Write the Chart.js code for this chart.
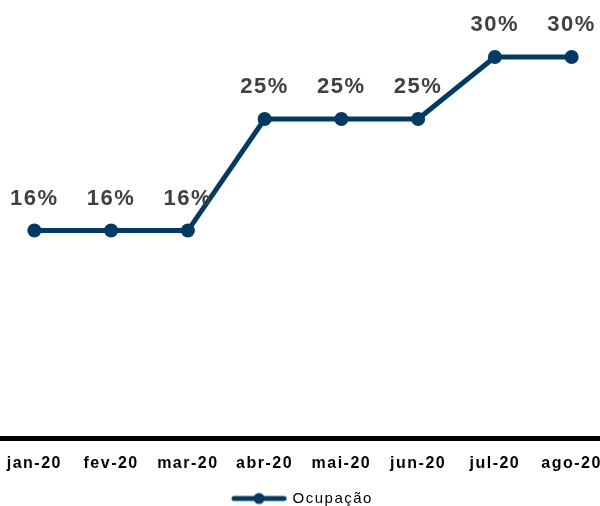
<!DOCTYPE html>
<html>
<head>
<meta charset="utf-8">
<script src="https://cdn.jsdelivr.net/npm/chart.js@4/dist/chart.umd.min.js"></script>
<style>
    body { margin: 0; background: #fff; overflow: hidden; }
    #wrap { position: absolute; left: -4px; top: 0; width: 614px; height: 506px; }
</style>
</head>
<body>
<div id="wrap"><canvas id="chart"></canvas></div>
<script>
// --- Data ---
const months = ['jan-20', 'fev-20', 'mar-20', 'abr-20', 'mai-20', 'jun-20', 'jul-20', 'ago-20'];
const ocupacao = [0.16, 0.16, 0.16, 0.25, 0.25, 0.25, 0.30, 0.30];
const seriesName = 'Ocupação';

const navy = '#033a63';
const font = 'Arial, "Liberation Sans", sans-serif';

// legend icon: short thick line with a dot in the middle
function legendIcon() {
    const c = document.createElement('canvas');
    c.width = 56; c.height = 14;
    const g = c.getContext('2d');
    g.strokeStyle = navy;
    g.lineWidth = 5;
    g.lineCap = 'round';
    g.beginPath();
    g.moveTo(3, 7); g.lineTo(53, 7);
    g.stroke();
    g.fillStyle = navy;
    g.beginPath();
    g.arc(28, 7, 5.5, 0, Math.PI * 2);
    g.fill();
    return c;
}

// a bit of letter spacing on every text the chart measures and draws
const spacing = {
    id: 'spacing',
    beforeLayout(chart) { chart.ctx.letterSpacing = '1.5px'; },
    beforeDraw(chart) { chart.ctx.letterSpacing = '1.5px'; },
    afterDraw(chart) { chart.ctx.letterSpacing = '0px'; }
};

// percentage labels above each point
const pointLabels = {
    id: 'pointLabels',
    afterDatasetsDraw(chart) {
        const ctx = chart.ctx;
        const meta = chart.getDatasetMeta(0);
        ctx.save();
        ctx.letterSpacing = '1.5px';
        ctx.font = 'bold 22px ' + font;
        ctx.fillStyle = '#404040';
        ctx.textAlign = 'center';
        ctx.textBaseline = 'middle';
        meta.data.forEach((pt, i) => {
            ctx.fillText(Math.round(ocupacao[i] * 100) + '%', pt.x, pt.y - 32);
        });
        ctx.restore();
    }
};

new Chart(document.getElementById('chart'), {
    type: 'line',
    data: {
        labels: months,
        datasets: [{
            label: seriesName,
            data: ocupacao,
            borderColor: navy,
            backgroundColor: navy,
            borderWidth: 5,
            tension: 0,
            pointRadius: 7,
            pointBackgroundColor: navy,
            pointBorderWidth: 0
        }]
    },
    options: {
        responsive: true,
        maintainAspectRatio: false,
        animation: false,
        layout: { autoPadding: false, padding: { top: 0, left: 0, right: 0, bottom: -10 } },
        scales: {
            x: {
                offset: true,
                grid: { display: false },
                border: { display: true, color: '#000', width: 5 },
                ticks: {
                    color: '#000',
                    font: { family: font, size: 16, weight: 'bold' },
                    padding: 7,
                    maxRotation: 0,
                    autoSkip: false
                }
            },
            y: {
                display: false,
                min: -0.008,
                max: 0.346
            }
        },
        plugins: {
            tooltip: { enabled: false },
            legend: {
                position: 'bottom',
                padding: 0,
                labels: {
                    usePointStyle: true,
                    pointStyleWidth: 52,
                    padding: 11,
                    font: { family: font, size: 15 },
                    color: '#000',
                    generateLabels: () => [{
                        text: seriesName,
                        pointStyle: legendIcon(),
                        fillStyle: navy,
                        strokeStyle: navy,
                        lineWidth: 0,
                        fontColor: '#000',
                        datasetIndex: 0
                    }]
                }
            }
        }
    },
    plugins: [spacing, pointLabels]
});
</script>
</body>
</html>
